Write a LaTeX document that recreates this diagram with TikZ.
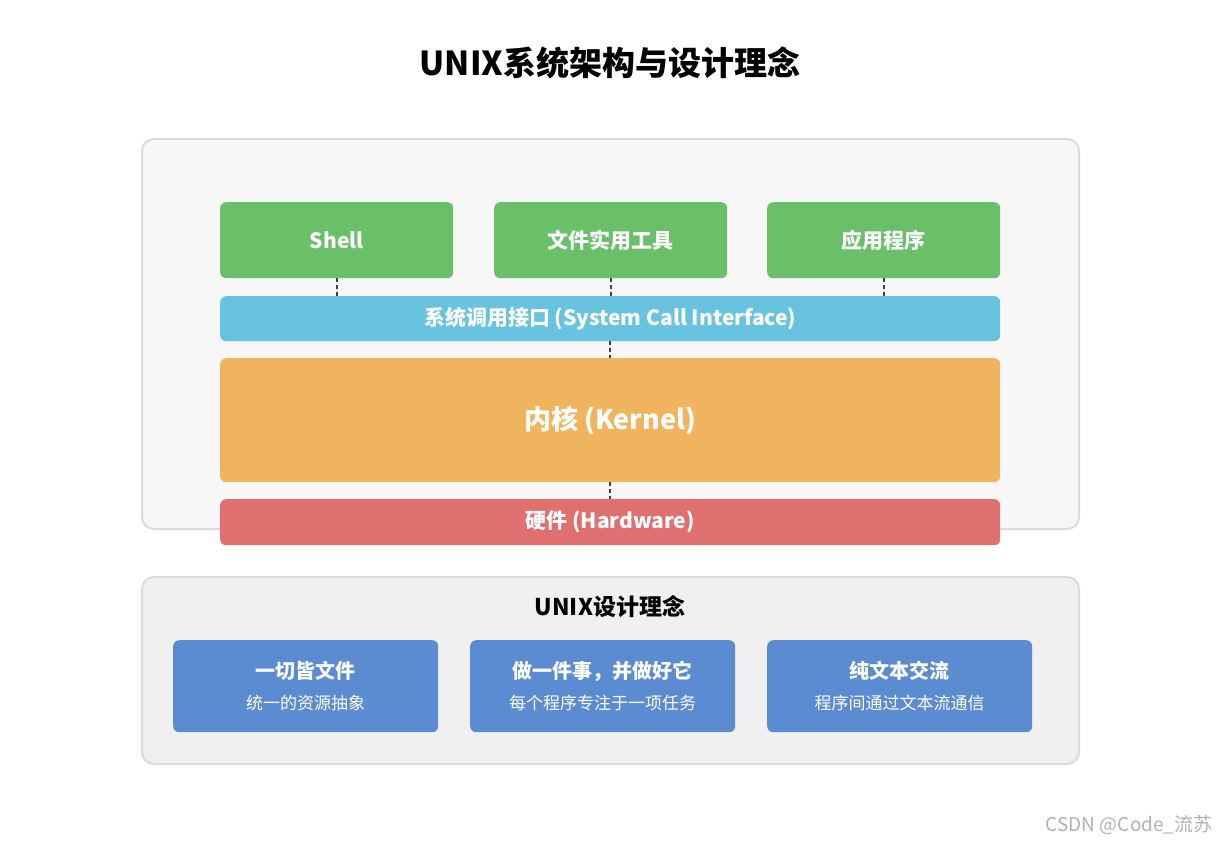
\documentclass[tikz,border=0pt]{standalone}
\usepackage{fontspec}
\setmainfont{Noto Sans CJK SC}
\begin{document}
\begin{tikzpicture}[x=1pt,y=-1pt,
 panel/.style={draw=black!14,line width=2pt,rounded corners=12pt},
 blk/.style={rounded corners=6pt,text=white,font=\bfseries\fontsize{21}{24}\selectfont,inner sep=0pt,anchor=north west},
 dashlink/.style={draw=black!75,line width=1.8pt,dash pattern=on 4pt off 3pt}]
\useasboundingbox (0,0) rectangle (1220,844);
\fill[white] (0,0) rectangle (1220,844);
\node[font=\bfseries\fontsize{33}{38}\selectfont] (title) at (610,63) {UNIX系统架构与设计理念};
\draw[panel,fill=black!3] (142,139) rectangle (1079,529);
\definecolor{gr}{HTML}{6ABF69}\definecolor{bl}{HTML}{68C3E0}
\definecolor{or}{HTML}{F0B35E}\definecolor{rd}{HTML}{E07070}\definecolor{bu}{HTML}{5B8BD0}
\node[blk,fill=gr,minimum width=233pt,minimum height=76pt] (shell) at (220,202) {Shell};
\node[blk,fill=gr,minimum width=233pt,minimum height=76pt] (util) at (494,202) {文件实用工具};
\node[blk,fill=gr,minimum width=233pt,minimum height=76pt] (app) at (767,202) {应用程序};
\node[blk,fill=bl,minimum width=780pt,minimum height=45pt] (sci) at (220,296) {系统调用接口 (System Call Interface)};
\node[blk,fill=or,minimum width=780pt,minimum height=124pt,font=\bfseries\fontsize{27}{31}\selectfont] (kern) at (220,358) {内核 (Kernel)};
\node[blk,fill=rd,minimum width=780pt,minimum height=46pt] (hw) at (220,499) {硬件 (Hardware)};
\draw[dashlink] (shell.south) -- (shell.south |- sci.north);
\draw[dashlink] (util.south) -- (util.south |- sci.north);
\draw[dashlink] (app.south) -- (app.south |- sci.north);
\draw[dashlink] (sci.south) -- (kern.north);
\draw[dashlink] (kern.south) -- (hw.north);
\draw[panel,fill=black!6] (142,577) rectangle (1079,764);
\node[font=\bfseries\fontsize{23}{27}\selectfont] (phil) at (610,607) {UNIX设计理念};
\foreach \n/\x/\a/\b in {p1/173/一切皆文件/统一的资源抽象, p2/470/做一件事，并做好它/每个程序专注于一项任务, p3/767/纯文本交流/程序间通过文本流通信}{
 \node[blk,fill=bu,minimum width=265pt,minimum height=92pt] (\n) at (\x,640) {};
 \node[text=white,font=\bfseries\fontsize{20}{24}\selectfont] (\n t) at ([shift={(0,31)}]\n.north) {\a};
 \node[text=white,font=\fontsize{17}{20}\selectfont] (\n s) at ([shift={(0,63)}]\n.north) {\b};
}
\node[text=black!30,font=\fontsize{19}{22}\selectfont,anchor=east] (wm) at (1216,825) {CSDN @Code\_流苏};
\end{tikzpicture}
\end{document}
